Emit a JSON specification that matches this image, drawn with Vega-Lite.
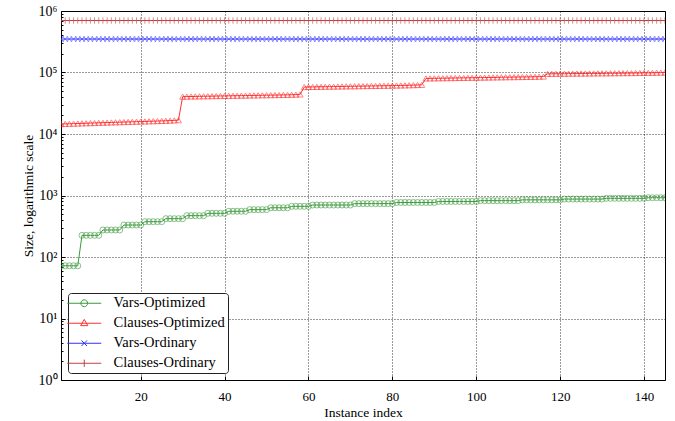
{
  "$schema": "https://vega.github.io/schema/vega-lite/v6.json",
  "width": 604,
  "height": 369,
  "autosize": {"type": "none"},
  "padding": {"left": 61, "top": 11, "right": 10, "bottom": 41},
  "config": {
    "font": "Liberation Serif",
    "view": {"stroke": "black", "strokeWidth": 1},
    "axis": {"labelColor": "black", "titleColor": "black", "titleFontWeight": "normal", "labelFontSize": 13, "titleFontSize": 13.5, "tickColor": "black", "domain": false}
  },
  "data": {
    "values": [
      {"i":1,"Vars-Optimized":72,"Clauses-Optimized":14500,"Vars-Ordinary":350000,"Clauses-Ordinary":700000},
      {"i":2,"Vars-Optimized":72,"Clauses-Optimized":14600,"Vars-Ordinary":350000,"Clauses-Ordinary":700000},
      {"i":3,"Vars-Optimized":72,"Clauses-Optimized":14650,"Vars-Ordinary":350000,"Clauses-Ordinary":700000},
      {"i":4,"Vars-Optimized":72,"Clauses-Optimized":14750,"Vars-Ordinary":350000,"Clauses-Ordinary":700000},
      {"i":5,"Vars-Optimized":72,"Clauses-Optimized":14800,"Vars-Ordinary":350000,"Clauses-Ordinary":700000},
      {"i":6,"Vars-Optimized":225,"Clauses-Optimized":14900,"Vars-Ordinary":350000,"Clauses-Ordinary":700000},
      {"i":7,"Vars-Optimized":225,"Clauses-Optimized":14950,"Vars-Ordinary":350000,"Clauses-Ordinary":700000},
      {"i":8,"Vars-Optimized":225,"Clauses-Optimized":15050,"Vars-Ordinary":350000,"Clauses-Ordinary":700000},
      {"i":9,"Vars-Optimized":225,"Clauses-Optimized":15100,"Vars-Ordinary":350000,"Clauses-Ordinary":700000},
      {"i":10,"Vars-Optimized":225,"Clauses-Optimized":15200,"Vars-Ordinary":350000,"Clauses-Ordinary":700000},
      {"i":11,"Vars-Optimized":275,"Clauses-Optimized":15250,"Vars-Ordinary":350000,"Clauses-Ordinary":700000},
      {"i":12,"Vars-Optimized":275,"Clauses-Optimized":15350,"Vars-Ordinary":350000,"Clauses-Ordinary":700000},
      {"i":13,"Vars-Optimized":275,"Clauses-Optimized":15400,"Vars-Ordinary":350000,"Clauses-Ordinary":700000},
      {"i":14,"Vars-Optimized":275,"Clauses-Optimized":15500,"Vars-Ordinary":350000,"Clauses-Ordinary":700000},
      {"i":15,"Vars-Optimized":275,"Clauses-Optimized":15550,"Vars-Ordinary":350000,"Clauses-Ordinary":700000},
      {"i":16,"Vars-Optimized":331,"Clauses-Optimized":15650,"Vars-Ordinary":350000,"Clauses-Ordinary":700000},
      {"i":17,"Vars-Optimized":331,"Clauses-Optimized":15700,"Vars-Ordinary":350000,"Clauses-Ordinary":700000},
      {"i":18,"Vars-Optimized":331,"Clauses-Optimized":15800,"Vars-Ordinary":350000,"Clauses-Ordinary":700000},
      {"i":19,"Vars-Optimized":331,"Clauses-Optimized":15850,"Vars-Ordinary":350000,"Clauses-Ordinary":700000},
      {"i":20,"Vars-Optimized":331,"Clauses-Optimized":15950,"Vars-Ordinary":350000,"Clauses-Ordinary":700000},
      {"i":21,"Vars-Optimized":375,"Clauses-Optimized":16000,"Vars-Ordinary":350000,"Clauses-Ordinary":700000},
      {"i":22,"Vars-Optimized":375,"Clauses-Optimized":16100,"Vars-Ordinary":350000,"Clauses-Ordinary":700000},
      {"i":23,"Vars-Optimized":375,"Clauses-Optimized":16150,"Vars-Ordinary":350000,"Clauses-Ordinary":700000},
      {"i":24,"Vars-Optimized":375,"Clauses-Optimized":16250,"Vars-Ordinary":350000,"Clauses-Ordinary":700000},
      {"i":25,"Vars-Optimized":375,"Clauses-Optimized":16300,"Vars-Ordinary":350000,"Clauses-Ordinary":700000},
      {"i":26,"Vars-Optimized":420,"Clauses-Optimized":16400,"Vars-Ordinary":350000,"Clauses-Ordinary":700000},
      {"i":27,"Vars-Optimized":420,"Clauses-Optimized":16500,"Vars-Ordinary":350000,"Clauses-Ordinary":700000},
      {"i":28,"Vars-Optimized":420,"Clauses-Optimized":16650,"Vars-Ordinary":350000,"Clauses-Ordinary":700000},
      {"i":29,"Vars-Optimized":420,"Clauses-Optimized":16800,"Vars-Ordinary":350000,"Clauses-Ordinary":700000},
      {"i":30,"Vars-Optimized":420,"Clauses-Optimized":40500,"Vars-Ordinary":350000,"Clauses-Ordinary":700000},
      {"i":31,"Vars-Optimized":470,"Clauses-Optimized":40600,"Vars-Ordinary":350000,"Clauses-Ordinary":700000},
      {"i":32,"Vars-Optimized":470,"Clauses-Optimized":40700,"Vars-Ordinary":350000,"Clauses-Ordinary":700000},
      {"i":33,"Vars-Optimized":470,"Clauses-Optimized":40800,"Vars-Ordinary":350000,"Clauses-Ordinary":700000},
      {"i":34,"Vars-Optimized":470,"Clauses-Optimized":40950,"Vars-Ordinary":350000,"Clauses-Ordinary":700000},
      {"i":35,"Vars-Optimized":470,"Clauses-Optimized":41050,"Vars-Ordinary":350000,"Clauses-Ordinary":700000},
      {"i":36,"Vars-Optimized":513,"Clauses-Optimized":41150,"Vars-Ordinary":350000,"Clauses-Ordinary":700000},
      {"i":37,"Vars-Optimized":513,"Clauses-Optimized":41250,"Vars-Ordinary":350000,"Clauses-Ordinary":700000},
      {"i":38,"Vars-Optimized":513,"Clauses-Optimized":41400,"Vars-Ordinary":350000,"Clauses-Ordinary":700000},
      {"i":39,"Vars-Optimized":513,"Clauses-Optimized":41500,"Vars-Ordinary":350000,"Clauses-Ordinary":700000},
      {"i":40,"Vars-Optimized":513,"Clauses-Optimized":41600,"Vars-Ordinary":350000,"Clauses-Ordinary":700000},
      {"i":41,"Vars-Optimized":554,"Clauses-Optimized":41700,"Vars-Ordinary":350000,"Clauses-Ordinary":700000},
      {"i":42,"Vars-Optimized":554,"Clauses-Optimized":41850,"Vars-Ordinary":350000,"Clauses-Ordinary":700000},
      {"i":43,"Vars-Optimized":554,"Clauses-Optimized":41950,"Vars-Ordinary":350000,"Clauses-Ordinary":700000},
      {"i":44,"Vars-Optimized":554,"Clauses-Optimized":42050,"Vars-Ordinary":350000,"Clauses-Ordinary":700000},
      {"i":45,"Vars-Optimized":554,"Clauses-Optimized":42150,"Vars-Ordinary":350000,"Clauses-Ordinary":700000},
      {"i":46,"Vars-Optimized":589,"Clauses-Optimized":42300,"Vars-Ordinary":350000,"Clauses-Ordinary":700000},
      {"i":47,"Vars-Optimized":589,"Clauses-Optimized":42400,"Vars-Ordinary":350000,"Clauses-Ordinary":700000},
      {"i":48,"Vars-Optimized":589,"Clauses-Optimized":42500,"Vars-Ordinary":350000,"Clauses-Ordinary":700000},
      {"i":49,"Vars-Optimized":589,"Clauses-Optimized":42600,"Vars-Ordinary":350000,"Clauses-Ordinary":700000},
      {"i":50,"Vars-Optimized":589,"Clauses-Optimized":42750,"Vars-Ordinary":350000,"Clauses-Ordinary":700000},
      {"i":51,"Vars-Optimized":632,"Clauses-Optimized":42850,"Vars-Ordinary":350000,"Clauses-Ordinary":700000},
      {"i":52,"Vars-Optimized":632,"Clauses-Optimized":42950,"Vars-Ordinary":350000,"Clauses-Ordinary":700000},
      {"i":53,"Vars-Optimized":632,"Clauses-Optimized":43050,"Vars-Ordinary":350000,"Clauses-Ordinary":700000},
      {"i":54,"Vars-Optimized":632,"Clauses-Optimized":43200,"Vars-Ordinary":350000,"Clauses-Ordinary":700000},
      {"i":55,"Vars-Optimized":632,"Clauses-Optimized":43350,"Vars-Ordinary":350000,"Clauses-Ordinary":700000},
      {"i":56,"Vars-Optimized":667,"Clauses-Optimized":43500,"Vars-Ordinary":350000,"Clauses-Ordinary":700000},
      {"i":57,"Vars-Optimized":667,"Clauses-Optimized":43700,"Vars-Ordinary":350000,"Clauses-Ordinary":700000},
      {"i":58,"Vars-Optimized":667,"Clauses-Optimized":44000,"Vars-Ordinary":350000,"Clauses-Ordinary":700000},
      {"i":59,"Vars-Optimized":667,"Clauses-Optimized":58000,"Vars-Ordinary":350000,"Clauses-Ordinary":700000},
      {"i":60,"Vars-Optimized":667,"Clauses-Optimized":58150,"Vars-Ordinary":350000,"Clauses-Ordinary":700000},
      {"i":61,"Vars-Optimized":700,"Clauses-Optimized":58300,"Vars-Ordinary":350000,"Clauses-Ordinary":700000},
      {"i":62,"Vars-Optimized":700,"Clauses-Optimized":58450,"Vars-Ordinary":350000,"Clauses-Ordinary":700000},
      {"i":63,"Vars-Optimized":700,"Clauses-Optimized":58600,"Vars-Ordinary":350000,"Clauses-Ordinary":700000},
      {"i":64,"Vars-Optimized":700,"Clauses-Optimized":58750,"Vars-Ordinary":350000,"Clauses-Ordinary":700000},
      {"i":65,"Vars-Optimized":700,"Clauses-Optimized":58900,"Vars-Ordinary":350000,"Clauses-Ordinary":700000},
      {"i":66,"Vars-Optimized":700,"Clauses-Optimized":59050,"Vars-Ordinary":350000,"Clauses-Ordinary":700000},
      {"i":67,"Vars-Optimized":700,"Clauses-Optimized":59200,"Vars-Ordinary":350000,"Clauses-Ordinary":700000},
      {"i":68,"Vars-Optimized":700,"Clauses-Optimized":59350,"Vars-Ordinary":350000,"Clauses-Ordinary":700000},
      {"i":69,"Vars-Optimized":700,"Clauses-Optimized":59500,"Vars-Ordinary":350000,"Clauses-Ordinary":700000},
      {"i":70,"Vars-Optimized":700,"Clauses-Optimized":59650,"Vars-Ordinary":350000,"Clauses-Ordinary":700000},
      {"i":71,"Vars-Optimized":738,"Clauses-Optimized":59800,"Vars-Ordinary":350000,"Clauses-Ordinary":700000},
      {"i":72,"Vars-Optimized":738,"Clauses-Optimized":59950,"Vars-Ordinary":350000,"Clauses-Ordinary":700000},
      {"i":73,"Vars-Optimized":738,"Clauses-Optimized":60100,"Vars-Ordinary":350000,"Clauses-Ordinary":700000},
      {"i":74,"Vars-Optimized":738,"Clauses-Optimized":60250,"Vars-Ordinary":350000,"Clauses-Ordinary":700000},
      {"i":75,"Vars-Optimized":738,"Clauses-Optimized":60400,"Vars-Ordinary":350000,"Clauses-Ordinary":700000},
      {"i":76,"Vars-Optimized":738,"Clauses-Optimized":60550,"Vars-Ordinary":350000,"Clauses-Ordinary":700000},
      {"i":77,"Vars-Optimized":738,"Clauses-Optimized":60700,"Vars-Ordinary":350000,"Clauses-Ordinary":700000},
      {"i":78,"Vars-Optimized":738,"Clauses-Optimized":60850,"Vars-Ordinary":350000,"Clauses-Ordinary":700000},
      {"i":79,"Vars-Optimized":738,"Clauses-Optimized":61000,"Vars-Ordinary":350000,"Clauses-Ordinary":700000},
      {"i":80,"Vars-Optimized":738,"Clauses-Optimized":61200,"Vars-Ordinary":350000,"Clauses-Ordinary":700000},
      {"i":81,"Vars-Optimized":770,"Clauses-Optimized":61400,"Vars-Ordinary":350000,"Clauses-Ordinary":700000},
      {"i":82,"Vars-Optimized":770,"Clauses-Optimized":61600,"Vars-Ordinary":350000,"Clauses-Ordinary":700000},
      {"i":83,"Vars-Optimized":770,"Clauses-Optimized":61800,"Vars-Ordinary":350000,"Clauses-Ordinary":700000},
      {"i":84,"Vars-Optimized":770,"Clauses-Optimized":62000,"Vars-Ordinary":350000,"Clauses-Ordinary":700000},
      {"i":85,"Vars-Optimized":770,"Clauses-Optimized":62300,"Vars-Ordinary":350000,"Clauses-Ordinary":700000},
      {"i":86,"Vars-Optimized":770,"Clauses-Optimized":62600,"Vars-Ordinary":350000,"Clauses-Ordinary":700000},
      {"i":87,"Vars-Optimized":770,"Clauses-Optimized":63000,"Vars-Ordinary":350000,"Clauses-Ordinary":700000},
      {"i":88,"Vars-Optimized":770,"Clauses-Optimized":80000,"Vars-Ordinary":350000,"Clauses-Ordinary":700000},
      {"i":89,"Vars-Optimized":770,"Clauses-Optimized":80200,"Vars-Ordinary":350000,"Clauses-Ordinary":700000},
      {"i":90,"Vars-Optimized":770,"Clauses-Optimized":80400,"Vars-Ordinary":350000,"Clauses-Ordinary":700000},
      {"i":91,"Vars-Optimized":800,"Clauses-Optimized":80600,"Vars-Ordinary":350000,"Clauses-Ordinary":700000},
      {"i":92,"Vars-Optimized":800,"Clauses-Optimized":80800,"Vars-Ordinary":350000,"Clauses-Ordinary":700000},
      {"i":93,"Vars-Optimized":800,"Clauses-Optimized":81000,"Vars-Ordinary":350000,"Clauses-Ordinary":700000},
      {"i":94,"Vars-Optimized":800,"Clauses-Optimized":81200,"Vars-Ordinary":350000,"Clauses-Ordinary":700000},
      {"i":95,"Vars-Optimized":800,"Clauses-Optimized":81400,"Vars-Ordinary":350000,"Clauses-Ordinary":700000},
      {"i":96,"Vars-Optimized":800,"Clauses-Optimized":81600,"Vars-Ordinary":350000,"Clauses-Ordinary":700000},
      {"i":97,"Vars-Optimized":800,"Clauses-Optimized":81800,"Vars-Ordinary":350000,"Clauses-Ordinary":700000},
      {"i":98,"Vars-Optimized":800,"Clauses-Optimized":82000,"Vars-Ordinary":350000,"Clauses-Ordinary":700000},
      {"i":99,"Vars-Optimized":800,"Clauses-Optimized":82200,"Vars-Ordinary":350000,"Clauses-Ordinary":700000},
      {"i":100,"Vars-Optimized":800,"Clauses-Optimized":82400,"Vars-Ordinary":350000,"Clauses-Ordinary":700000},
      {"i":101,"Vars-Optimized":825,"Clauses-Optimized":82600,"Vars-Ordinary":350000,"Clauses-Ordinary":700000},
      {"i":102,"Vars-Optimized":825,"Clauses-Optimized":82800,"Vars-Ordinary":350000,"Clauses-Ordinary":700000},
      {"i":103,"Vars-Optimized":825,"Clauses-Optimized":83000,"Vars-Ordinary":350000,"Clauses-Ordinary":700000},
      {"i":104,"Vars-Optimized":825,"Clauses-Optimized":83200,"Vars-Ordinary":350000,"Clauses-Ordinary":700000},
      {"i":105,"Vars-Optimized":825,"Clauses-Optimized":83400,"Vars-Ordinary":350000,"Clauses-Ordinary":700000},
      {"i":106,"Vars-Optimized":825,"Clauses-Optimized":83600,"Vars-Ordinary":350000,"Clauses-Ordinary":700000},
      {"i":107,"Vars-Optimized":825,"Clauses-Optimized":83800,"Vars-Ordinary":350000,"Clauses-Ordinary":700000},
      {"i":108,"Vars-Optimized":825,"Clauses-Optimized":84000,"Vars-Ordinary":350000,"Clauses-Ordinary":700000},
      {"i":109,"Vars-Optimized":825,"Clauses-Optimized":84200,"Vars-Ordinary":350000,"Clauses-Ordinary":700000},
      {"i":110,"Vars-Optimized":825,"Clauses-Optimized":84400,"Vars-Ordinary":350000,"Clauses-Ordinary":700000},
      {"i":111,"Vars-Optimized":850,"Clauses-Optimized":84600,"Vars-Ordinary":350000,"Clauses-Ordinary":700000},
      {"i":112,"Vars-Optimized":850,"Clauses-Optimized":84800,"Vars-Ordinary":350000,"Clauses-Ordinary":700000},
      {"i":113,"Vars-Optimized":850,"Clauses-Optimized":85000,"Vars-Ordinary":350000,"Clauses-Ordinary":700000},
      {"i":114,"Vars-Optimized":850,"Clauses-Optimized":85300,"Vars-Ordinary":350000,"Clauses-Ordinary":700000},
      {"i":115,"Vars-Optimized":850,"Clauses-Optimized":85600,"Vars-Ordinary":350000,"Clauses-Ordinary":700000},
      {"i":116,"Vars-Optimized":850,"Clauses-Optimized":86000,"Vars-Ordinary":350000,"Clauses-Ordinary":700000},
      {"i":117,"Vars-Optimized":850,"Clauses-Optimized":95000,"Vars-Ordinary":350000,"Clauses-Ordinary":700000},
      {"i":118,"Vars-Optimized":850,"Clauses-Optimized":95150,"Vars-Ordinary":350000,"Clauses-Ordinary":700000},
      {"i":119,"Vars-Optimized":850,"Clauses-Optimized":95300,"Vars-Ordinary":350000,"Clauses-Ordinary":700000},
      {"i":120,"Vars-Optimized":850,"Clauses-Optimized":95450,"Vars-Ordinary":350000,"Clauses-Ordinary":700000},
      {"i":121,"Vars-Optimized":875,"Clauses-Optimized":95600,"Vars-Ordinary":350000,"Clauses-Ordinary":700000},
      {"i":122,"Vars-Optimized":875,"Clauses-Optimized":95750,"Vars-Ordinary":350000,"Clauses-Ordinary":700000},
      {"i":123,"Vars-Optimized":875,"Clauses-Optimized":95900,"Vars-Ordinary":350000,"Clauses-Ordinary":700000},
      {"i":124,"Vars-Optimized":875,"Clauses-Optimized":96050,"Vars-Ordinary":350000,"Clauses-Ordinary":700000},
      {"i":125,"Vars-Optimized":875,"Clauses-Optimized":96200,"Vars-Ordinary":350000,"Clauses-Ordinary":700000},
      {"i":126,"Vars-Optimized":875,"Clauses-Optimized":96350,"Vars-Ordinary":350000,"Clauses-Ordinary":700000},
      {"i":127,"Vars-Optimized":875,"Clauses-Optimized":96500,"Vars-Ordinary":350000,"Clauses-Ordinary":700000},
      {"i":128,"Vars-Optimized":875,"Clauses-Optimized":96650,"Vars-Ordinary":350000,"Clauses-Ordinary":700000},
      {"i":129,"Vars-Optimized":875,"Clauses-Optimized":96800,"Vars-Ordinary":350000,"Clauses-Ordinary":700000},
      {"i":130,"Vars-Optimized":875,"Clauses-Optimized":96950,"Vars-Ordinary":350000,"Clauses-Ordinary":700000},
      {"i":131,"Vars-Optimized":900,"Clauses-Optimized":97100,"Vars-Ordinary":350000,"Clauses-Ordinary":700000},
      {"i":132,"Vars-Optimized":900,"Clauses-Optimized":97250,"Vars-Ordinary":350000,"Clauses-Ordinary":700000},
      {"i":133,"Vars-Optimized":900,"Clauses-Optimized":97400,"Vars-Ordinary":350000,"Clauses-Ordinary":700000},
      {"i":134,"Vars-Optimized":900,"Clauses-Optimized":97550,"Vars-Ordinary":350000,"Clauses-Ordinary":700000},
      {"i":135,"Vars-Optimized":900,"Clauses-Optimized":97700,"Vars-Ordinary":350000,"Clauses-Ordinary":700000},
      {"i":136,"Vars-Optimized":900,"Clauses-Optimized":97850,"Vars-Ordinary":350000,"Clauses-Ordinary":700000},
      {"i":137,"Vars-Optimized":900,"Clauses-Optimized":98000,"Vars-Ordinary":350000,"Clauses-Ordinary":700000},
      {"i":138,"Vars-Optimized":900,"Clauses-Optimized":98200,"Vars-Ordinary":350000,"Clauses-Ordinary":700000},
      {"i":139,"Vars-Optimized":900,"Clauses-Optimized":98400,"Vars-Ordinary":350000,"Clauses-Ordinary":700000},
      {"i":140,"Vars-Optimized":900,"Clauses-Optimized":98600,"Vars-Ordinary":350000,"Clauses-Ordinary":700000},
      {"i":141,"Vars-Optimized":920,"Clauses-Optimized":98800,"Vars-Ordinary":350000,"Clauses-Ordinary":700000},
      {"i":142,"Vars-Optimized":920,"Clauses-Optimized":99000,"Vars-Ordinary":350000,"Clauses-Ordinary":700000},
      {"i":143,"Vars-Optimized":920,"Clauses-Optimized":99300,"Vars-Ordinary":350000,"Clauses-Ordinary":700000},
      {"i":144,"Vars-Optimized":920,"Clauses-Optimized":99600,"Vars-Ordinary":350000,"Clauses-Ordinary":700000},
      {"i":145,"Vars-Optimized":920,"Clauses-Optimized":100000,"Vars-Ordinary":350000,"Clauses-Ordinary":700000}
    ]
  },
  "transform": [
    {"fold": ["Vars-Optimized", "Clauses-Optimized", "Vars-Ordinary", "Clauses-Ordinary"], "as": ["series", "size"]}
  ],
  "encoding": {
    "x": {
      "field": "i", "type": "quantitative",
      "scale": {"domain": [1, 145], "nice": false, "zero": false},
      "axis": {"title": "Instance index", "values": [20, 40, 60, 80, 100, 120, 140], "grid": true, "gridColor": "black", "gridDash": [1, 2], "gridWidth": 0.8, "gridOpacity": 1, "tickSize": -4, "labelPadding": 14, "titlePadding": 2}
    },
    "color": {
      "field": "series", "type": "nominal",
      "scale": {"domain": ["Vars-Optimized", "Clauses-Optimized", "Vars-Ordinary", "Clauses-Ordinary"], "range": ["#3a9a3a", "#ff3030", "#3030ff", "#c04040"]},
      "legend": {
        "title": null, "orient": "bottom-left", "offset": 7,
        "fillColor": "white", "strokeColor": "#222", "cornerRadius": 3, "padding": 3,
        "labelFontSize": 14.5, "labelColor": "black", "labelFont": "Liberation Serif",
        "symbolSize": 100, "symbolOffset": 6, "labelOffset": 22, "rowPadding": 5, "symbolStrokeWidth": 1, "symbolOpacity": 1
      }
    }
  },
  "layer": [
    {
      "mark": {"type": "line", "strokeWidth": 1, "clip": true},
      "encoding": {
        "y": {
          "field": "size", "type": "quantitative",
          "scale": {"type": "log", "domain": [1, 1000000], "nice": false},
          "axis": {"orient": "left", "values": [2,3,4,5,6,7,8,9,20,30,40,50,60,70,80,90,200,300,400,500,600,700,800,900,2000,3000,4000,5000,6000,7000,8000,9000,20000,30000,40000,50000,60000,70000,80000,90000,200000,300000,400000,500000,600000,700000,800000,900000], "labels": false, "grid": false, "tickSize": -2, "title": null, "domain": false}
        }
      }
    },
    {
      "transform": [{"filter": "datum.series === 'Vars-Optimized'"}],
      "mark": {"type": "point", "shape": "circle", "filled": false, "strokeWidth": 1, "size": 36, "opacity": 0.6, "clip": true},
      "encoding": {
        "y": {
          "field": "size", "type": "quantitative",
          "axis": {"orient": "left", "title": "Size, logarithmic scale", "values": [1, 10, 100, 1000, 10000, 100000, 1000000], "labelExpr": "'10' + ['⁰','¹','²','³','⁴','⁵','⁶'][round(log(datum.value)/LN10)]", "grid": true, "gridColor": "black", "gridDash": [1, 2], "gridWidth": 0.8, "gridOpacity": 1, "tickSize": -4, "labelPadding": 8, "titlePadding": 3, "labelFontSize": 14}
        }
      }
    },
    {
      "transform": [{"filter": "datum.series === 'Clauses-Optimized'"}],
      "mark": {"type": "point", "shape": "triangle-up", "filled": false, "strokeWidth": 1, "size": 36, "opacity": 0.6, "clip": true},
      "encoding": {"y": {"field": "size", "type": "quantitative", "axis": null}}
    },
    {
      "transform": [{"filter": "datum.series === 'Vars-Ordinary'"}],
      "mark": {"type": "point", "shape": "M-1,-1L1,1M-1,1L1,-1", "filled": false, "strokeWidth": 1, "size": 30, "opacity": 0.6, "clip": true},
      "encoding": {"y": {"field": "size", "type": "quantitative", "axis": null}}
    },
    {
      "transform": [{"filter": "datum.series === 'Clauses-Ordinary'"}],
      "mark": {"type": "point", "shape": "M-1,0L1,0M0,-1L0,1", "filled": false, "strokeWidth": 1, "size": 40, "opacity": 0.6, "clip": true},
      "encoding": {"y": {"field": "size", "type": "quantitative", "axis": null}}
    },
    {
      "mark": {"type": "point", "filled": false, "strokeWidth": 1, "size": 0, "clip": true},
      "encoding": {
        "y": {"field": "size", "type": "quantitative", "axis": null},
        "shape": {
          "field": "series", "type": "nominal",
          "scale": {"domain": ["Vars-Optimized", "Clauses-Optimized", "Vars-Ordinary", "Clauses-Ordinary"], "range": [
            "M-3.4,0L3.4,0M-0.68,0A0.68,0.68,0,1,1,0.68,0A0.68,0.68,0,1,1,-0.68,0",
            "M-3.4,0L3.4,0M0,-0.76L0.72,0.48L-0.72,0.48Z",
            "M-3.4,0L3.4,0M-0.56,-0.56L0.56,0.56M-0.56,0.56L0.56,-0.56",
            "M-3.4,0L3.4,0M0,-0.72L0,0.72"
          ]},
          "legend": null
        }
      }
    }
  ],
  "resolve": {"axis": {"y": "independent"}}
}
